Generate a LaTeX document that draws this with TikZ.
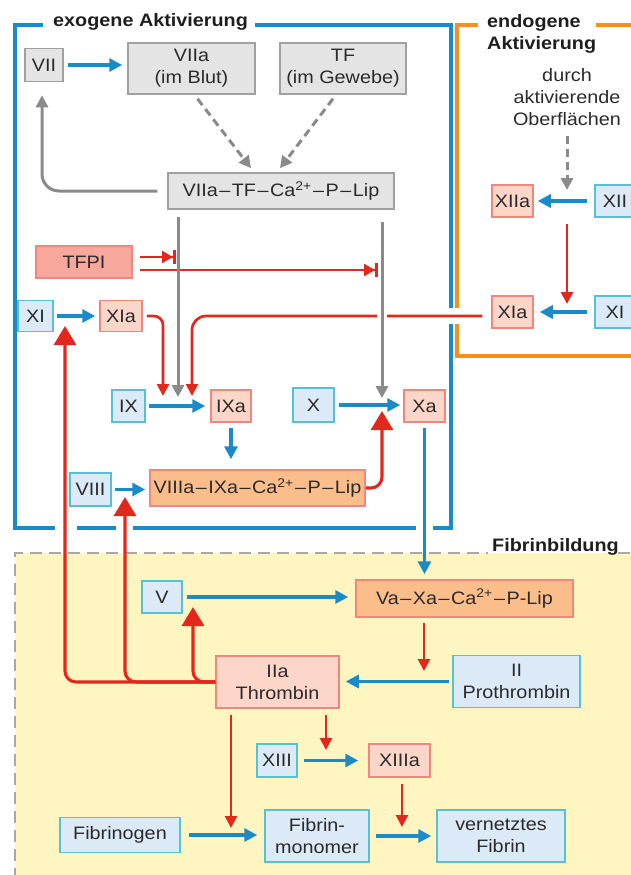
\documentclass[tikz,border=0pt]{standalone}
\usepackage{fontspec}
\setmainfont[FakeStretch=1.1]{Liberation Sans}
\usetikzlibrary{arrows.meta,calc}
\definecolor{cblue}{HTML}{1B8BC8}
\definecolor{cred}{HTML}{E2281D}
\definecolor{cgray}{HTML}{8A8A8A}
\definecolor{corange}{HTML}{F39020}
\definecolor{gfill}{HTML}{E4E4E4}
\definecolor{gdraw}{HTML}{A0A0A0}
\definecolor{bfill}{HTML}{DCE9F7}
\definecolor{bdraw}{HTML}{55C2D3}
\definecolor{pfill}{HTML}{FCD6C8}
\definecolor{pdraw}{HTML}{F0867C}
\definecolor{ofill}{HTML}{FBBE8A}
\definecolor{tfill}{HTML}{F8A79D}
\definecolor{yfill}{HTML}{FEF5C0}
\definecolor{dgray}{HTML}{A8A8A8}
\definecolor{txt}{HTML}{2A2A2A}
\definecolor{ttxt}{HTML}{1E1E1E}
\newcommand\mydash{\hspace{1.5pt}–\hspace{1.5pt}}
\begin{document}
\begin{tikzpicture}[x=1pt,y=-1pt,
  font=\fontsize{18}{22}\selectfont,
  nbase/.style={draw, line width=1.5pt, inner sep=0pt, align=center, text=txt},
  nodeG/.style={nbase, fill=gfill, draw=gdraw},
  nodeB/.style={nbase, fill=bfill, draw=bdraw},
  nodeP/.style={nbase, fill=pfill, draw=pdraw},
  nodeO/.style={nbase, fill=ofill, draw=pdraw},
  nodeT/.style={nbase, fill=tfill, draw=pdraw},
  sz/.style 2 args={minimum width=#1pt, minimum height=#2pt},
  sh/.style 2 args={shorten <=#1pt, shorten >=#2pt},
  barr/.style={draw=cblue, line width=3.2pt, -{Triangle[length=13pt,width=13pt]}},
  rarr/.style={draw=cred, line width=2.7pt, -{Triangle[length=12pt,width=12pt]}},
  rbig/.style={draw=cred, line width=3.1pt, rounded corners=11pt, -{Triangle[length=19pt,width=22pt]}},
  garr/.style={draw=cgray, line width=3pt, -{Triangle[length=12pt,width=12pt]}},
  gdash/.style={garr, dash pattern=on 8pt off 5pt},
  inhib/.style={draw=cred, line width=2.6pt, -{Triangle[length=11pt,width=12pt]Bar[width=14pt,line width=3pt]}},
  frameline/.style={line width=3.4pt},
  ttl/.style={font=\fontsize{18}{22}\selectfont\bfseries, text=ttxt, inner sep=0pt},
]
\useasboundingbox (0,0) rectangle (631,875);

% background of Fibrinbildung
\fill[yfill] (15,553) rectangle (645,880);
\draw[dgray, line width=1.8pt, dash pattern=on 12pt off 7pt] (15,880) -- (15,553) -- (488,553);
\draw[dgray, line width=1.8pt, dash pattern=on 12pt off 7pt] (618,553) -- (645,553);

% blue frame (exogene)
\draw[frameline, cblue] (43,25) -- (15,25) -- (15,528) -- (55,528);
\draw[frameline, cblue] (77,528) -- (116,528);
\draw[frameline, cblue] (133,528) -- (416,528);
\draw[frameline, cblue] (433,528) -- (451,528) -- (451,324);
\draw[frameline, cblue] (451,308) -- (451,25) -- (255,25);
% orange frame (endogene)
\draw[frameline, corange] (478,25) -- (457,25) -- (457,308);
\draw[frameline, corange] (457,324) -- (457,356) -- (645,356);
\draw[frameline, corange] (596,25) -- (645,25);

% titles
\node[ttl, anchor=west] (tExo) at (53,22) {exogene Aktivierung};
\node[ttl, anchor=north west, align=left] (tEndo) at (487,14) {endogene\\Aktivierung};
\node[ttl, anchor=west] (tFibr) at (492,547) {Fibrinbildung};

% nodes
\node[nodeG, sz={38}{33}] (VII) at (44,65) {VII};
\node[nodeG, sz={127}{51}] (VIIa) at (191.5,68.5) {VIIa\\(im Blut)};
\node[nodeG, sz={126}{51}] (TF) at (343,68.5) {TF\\(im Gewebe)};
\node[nodeG, sz={226}{36}] (C1) at (281,191) {VIIa\mydash TF\mydash Ca\textsuperscript{2+}\mydash P\mydash Lip};
\node[nodeT, sz={96}{32}] (TFPI) at (84,262) {TFPI};
\node[nodeB, sz={35}{31}] (XIl) at (35.5,316) {XI};
\node[nodeP, sz={42}{31}] (XIal) at (121,316) {XIa};
\node[nodeB, sz={33}{32}] (IX) at (128.5,406) {IX};
\node[nodeP, sz={40}{32}] (IXa) at (231,406) {IXa};
\node[nodeB, sz={41}{34}] (X) at (313.5,405) {X};
\node[nodeP, sz={41}{32}] (Xa) at (424.5,406) {Xa};
\node[nodeB, sz={41}{33}] (VIII) at (90.5,489.5) {VIII};
\node[nodeO, sz={215}{36}] (C2) at (257.5,488) {VIIIa\mydash IXa\mydash Ca\textsuperscript{2+}\mydash P\mydash Lip};
\node[nodeB, sz={40}{32}] (V) at (162,597) {V};
\node[nodeO, sz={217}{37}] (C3) at (464.5,598.5) {Va\mydash Xa\mydash Ca\textsuperscript{2+}\mydash P-Lip};
\node[nodeP, sz={123}{52}] (IIa) at (277.5,682) {IIa\\Thrombin};
\node[nodeB, sz={127}{52}] (II) at (516.5,681.5) {II\\Prothrombin};
\node[nodeB, sz={40}{33}] (XIII) at (277,760.5) {XIII};
\node[nodeP, sz={61}{33}] (XIIIa) at (399.5,760.5) {XIIIa};
\node[nodeB, sz={120}{35}] (Fibg) at (120,835) {Fibrinogen};
\node[nodeB, sz={104}{52}] (Mono) at (317,836) {Fibrin-\\monomer};
\node[nodeB, sz={128}{52}] (Netz) at (501,836) {vernetztes\\Fibrin};
\node[nodeP, sz={41}{32}] (XIIa) at (512.5,201) {XIIa};
\node[nodeB, sz={40}{32}] (XII) at (615,201) {XII};
\node[nodeP, sz={41}{32}] (XIar) at (512.5,312) {XIa};
\node[nodeB, sz={40}{32}] (XIr) at (615,312) {XI};
\node[text=txt, align=center, inner sep=0pt] (durch) at (567,97.5) {durch\\aktivierende\\Oberflächen};

% target points on reaction arrows
\coordinate (tIXg) at (178,397);
\coordinate (tXg) at (382,398);
\coordinate (tIXr1) at (163,396);
\coordinate (tIXr2) at (192,396);
\coordinate (tXr) at (382,411);
\coordinate (i1) at (176,257);
\coordinate (i2) at (378,270);
\coordinate (tXI) at (65,326);
\coordinate (tVIII) at (125,497);
\coordinate (tV) at (193,607);
\coordinate (tII) at (424,671);
\coordinate (tXIII) at (326,750);
\coordinate (tFib) at (231,828);
\coordinate (tNetz) at (402,827);
\coordinate (tXII) at (567,190);
\coordinate (tXIr) at (567,304);

% exogene connectors
\draw[barr, sh={4}{5}] (VII.east) -- (VII.east -| VIIa.west);
\draw[gdash] ($(VIIa.south)+(6,4)$) -- ($(C1.north)+(-30,-4)$);
\draw[gdash] ($(TF.south)+(-10,4)$) -- ($(C1.north)+(-1,-4)$);
\draw[garr, rounded corners=17pt, sh={10}{13}] (C1.west) -| ([xshift=-2pt]VII.south);
\draw[inhib, shorten <=7pt] (TFPI.east |- i1) -- (i1);
\draw[inhib, shorten <=7pt] (TFPI.east |- i2) -- (i2);
\draw[barr, sh={3}{4}] (XIl.east) -- (XIal.west);
\draw[rarr, rounded corners=9pt, shorten <=4pt] (XIal.east) -| (tIXr1);
\draw[rarr, rounded corners=14pt, shorten <=9pt] (XIar.west |- XIal.east) -| (tIXr2);
\draw[white, line width=10pt] (382,310) -- (382,323);
\draw[garr, shorten <=7pt] (C1.south -| tIXg) -- (tIXg);
\draw[garr, shorten <=12pt] (C1.south -| tXg) -- (tXg);
\draw[barr, sh={3}{5}] (IX.east) -- (IX.east -| IXa.west);
\draw[barr, sh={4}{3}] (X.east) -- (X.east -| Xa.west);
\draw[barr, sh={5}{10}] (IXa.south) -- (IXa.south |- C2.north);
\draw[barr, sh={3}{4}] (VIII.east) -- (VIII.east -| C2.west);
\draw[rbig] (C2.east) -| (tXr);
\draw[barr, sh={5}{5}] (Xa.south) -- (Xa.south |- C3.north);

% endogene connectors
\draw[gdash, shorten <=10pt] (durch.south -| tXII) -- (tXII);
\draw[barr, sh={7}{4}] (XII.west) -- (XIIa.east);
\draw[rarr, shorten <=6pt] (XIIa.south -| tXIr) -- (tXIr);
\draw[barr, sh={7}{6}] (XIr.west) -- (XIar.east);

% Fibrinbildung connectors
\draw[barr, sh={4}{7}] (V.east) -- (V.east -| C3.west);
\draw[rarr, shorten <=5pt] (C3.south -| tII) -- (tII);
\draw[barr, sh={3}{6}] (II.west) -- (II.west -| IIa.east);
\draw[rbig] (IIa.west) -| (tXI);
\draw[rbig] (IIa.west) -| (tVIII);
\draw[rbig] (IIa.west) -| (tV);
\draw[rarr, shorten <=6pt] (IIa.south -| tFib) -- (tFib);
\draw[rarr, shorten <=6pt] (IIa.south -| tXIII) -- (tXIII);
\draw[barr, sh={6}{10}] (XIII.east) -- (XIIIa.west);
\draw[rarr, shorten <=6pt] (XIIIa.south -| tNetz) -- (tNetz);
\draw[barr, sh={8}{7}] (Fibg.east) -- (Fibg.east -| Mono.west);
\draw[barr, sh={6}{5}] (Mono.east) -- (Mono.east -| Netz.west);
\end{tikzpicture}
\end{document}
